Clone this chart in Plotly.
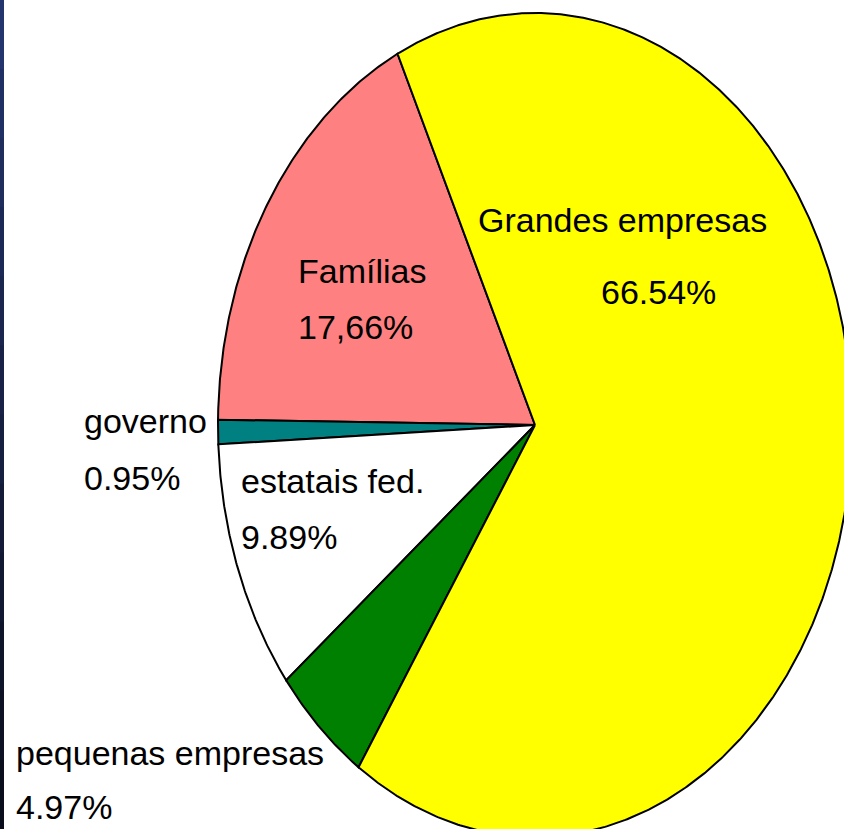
import numpy as np
import plotly.graph_objects as go

# ---- data (counter-clockwise order starting at the Famílias slice) ----
labels = ["Famílias", "governo", "estatais fed.", "pequenas empresas", "Grandes empresas"]
values = [17.66, 0.95, 9.89, 4.97, 66.54]
pct_text = ["17,66%", "0.95%", "9.89%", "4.97%", "66.54%"]
colors = ["#FF8080", "#008080", "#FFFFFF", "#008000", "#FFFF00"]

# ---- layout constants (pixels of the 844x829 canvas) ----
W, H = 844, 829
CX, CY = 535, 425          # pie centre
RX, RY = 317, 412          # pie radii (pie is stretched vertically)
START_DEG = 25.7           # first slice starts this far ccw from 12 o'clock

fig = go.Figure()

total = sum(values)
angle = np.radians(START_DEG)
for lab, v, c in zip(labels, values, colors):
    span = 2 * np.pi * v / total
    th = np.linspace(angle, angle + span, max(int(span * 180), 4))
    xs = np.concatenate([[0], -np.sin(th), [0]])
    ys = np.concatenate([[0], np.cos(th), [0]])
    fig.add_trace(go.Scatter(
        x=xs, y=ys, mode="lines", fill="toself", fillcolor=c,
        line=dict(color="black", width=2), name=lab,
        hoverinfo="name", showlegend=False))
    angle += span

# label positions: (left px, middle px) for name line and pct line
label_pos = {
    "Grandes empresas": ((476, 220), (599, 292)),
    "Famílias": ((296, 271), (296, 327)),
    "governo": ((82, 421), (82, 478)),
    "estatais fed.": ((239, 481), (239, 537)),
    "pequenas empresas": ((14, 753), (14, 807)),
}

FONT = "Liberation Sans, Arial, sans-serif"
for lab, pt in zip(labels, pct_text):
    (x1, y1), (x2, y2) = label_pos[lab]
    for txt, (px, py) in ((lab, (x1, y1)), (pt, (x2, y2))):
        fig.add_annotation(
            x=px / W, y=1 - py / H, xref="paper", yref="paper",
            text=txt, showarrow=False, xanchor="left", yanchor="middle",
            font=dict(family=FONT, size=34, color="#000000"))

# dark slide border on the left edge
n = 12
top = np.array([0x24, 0x34, 0x6c])
bot = np.array([0x0a, 0x0e, 0x1c])
for i in range(n):
    c = top + (bot - top) * i / (n - 1)
    fig.add_shape(type="rect", xref="paper", yref="paper",
                  x0=0, x1=4 / W, y0=max(0, 1 - (i + 1.3) / n), y1=1 - i / n,
                  fillcolor="rgb(%d,%d,%d)" % tuple(c.astype(int)),
                  line=dict(width=0), layer="above")

fig.update_layout(
    width=W, height=H,
    margin=dict(l=0, r=0, t=0, b=0),
    paper_bgcolor="white", plot_bgcolor="white",
    xaxis=dict(range=[-CX / RX, (W - CX) / RX], visible=False, fixedrange=True),
    yaxis=dict(range=[-(H - CY) / RY, CY / RY], visible=False, fixedrange=True),
    showlegend=False,
)

fig.write_html("out.html", config={"displayModeBar": False},
               post_script="document.body.style.margin='0';document.body.style.overflow='hidden';")
